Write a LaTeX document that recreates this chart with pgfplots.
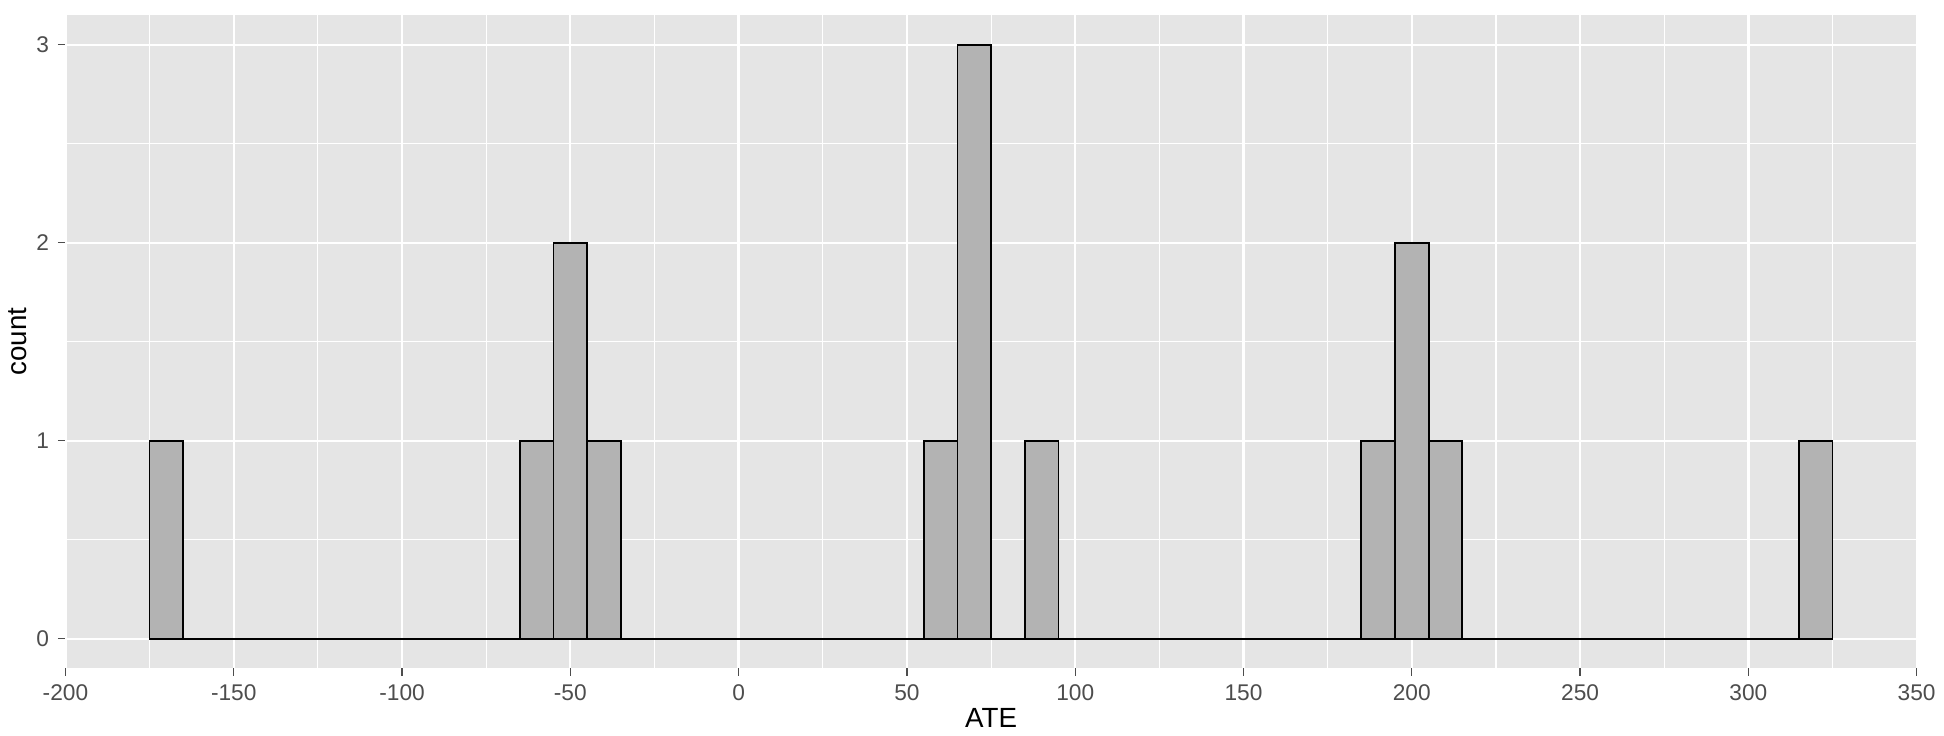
\documentclass[border=0pt]{standalone}
\usepackage{pgfplots}
\pgfplotsset{compat=1.18}
\usepackage{fontspec}
\setmainfont{Liberation Sans}
\definecolor{panel}{HTML}{E5E5E5}
\definecolor{barfill}{HTML}{B3B3B3}
\definecolor{tickc}{HTML}{4D4D4D}
\begin{document}
\begin{tikzpicture}
\begin{axis}[
  scale only axis, width=734pt, height=259pt,
  xmin=-200, xmax=350, ymin=-0.15, ymax=3.15,
  xtick={-200,-150,...,350}, ytick={0,1,2,3},
  minor x tick num=1, minor y tick num=1,
  grid=both,
  major grid style={white, line width=0.9pt},
  minor grid style={white, line width=0.45pt},
  axis background/.style={fill=panel},
  axis line style={draw=none},
  tick align=outside, tick pos=left,
  major tick length=3pt, minor tick length=0pt,
  tick style={tickc, line width=0.5pt},
  ticklabel style={font=\fontsize{9}{10}\selectfont, text=tickc},
  /pgf/number format/assume math mode=true,
  xlabel={ATE}, ylabel={count},
  label style={font=\fontsize{11}{13}\selectfont},
  xlabel style={yshift=4pt}, ylabel style={yshift=-3pt},
]
\addplot[ybar interval, fill=barfill, draw=black, line width=0.7pt] coordinates {
(-175,1)(-165,0)(-155,0)(-145,0)(-135,0)(-125,0)(-115,0)(-105,0)(-95,0)(-85,0)(-75,0)
(-65,1)(-55,2)(-45,1)(-35,0)(-25,0)(-15,0)(-5,0)(5,0)(15,0)(25,0)(35,0)(45,0)
(55,1)(65,3)(75,0)(85,1)(95,0)(105,0)(115,0)(125,0)(135,0)(145,0)(155,0)(165,0)(175,0)
(185,1)(195,2)(205,1)(215,0)(225,0)(235,0)(245,0)(255,0)(265,0)(275,0)(285,0)(295,0)(305,0)
(315,1)(325,1)
};
\end{axis}
\path ([xshift=7pt,yshift=6pt]current axis.north east);
\end{tikzpicture}
\end{document}
